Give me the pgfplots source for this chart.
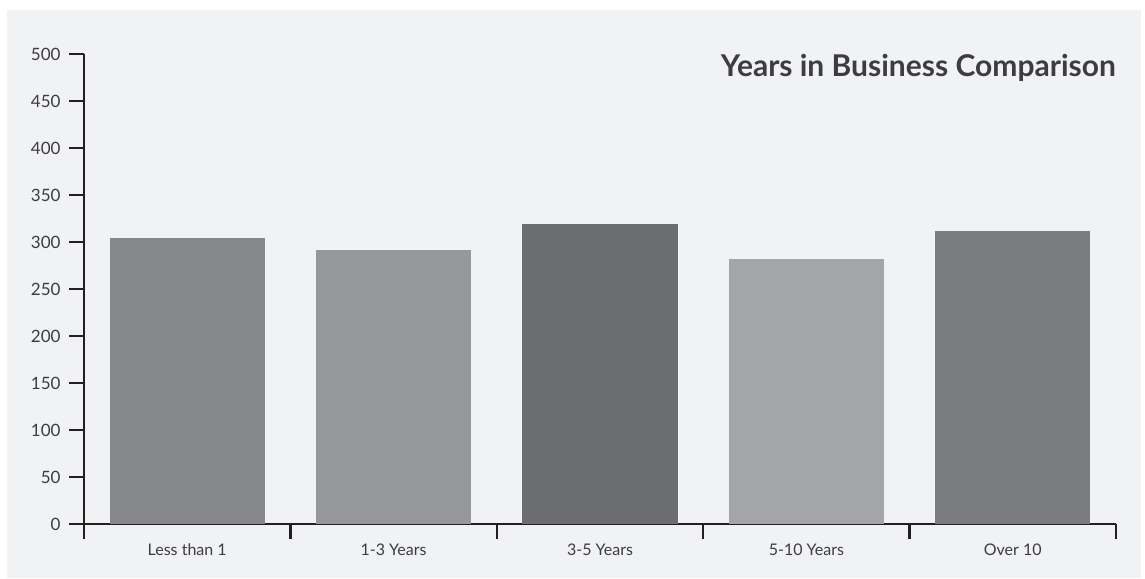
\documentclass[border=0pt]{standalone}
\usepackage{pgfplots}
\pgfplotsset{compat=1.18}
\usepackage{fontspec}
\setmainfont{Lato}
\definecolor{bg}{HTML}{F1F2F4}
\definecolor{axc}{HTML}{231F20}
\definecolor{txt}{HTML}{3D3D3F}
\definecolor{cA}{HTML}{87888C}
\definecolor{cB}{HTML}{97989B}
\definecolor{cC}{HTML}{6C6D71}
\definecolor{cD}{HTML}{A4A5A8}
\definecolor{cE}{HTML}{7B7C80}
\begin{document}
\begin{tikzpicture}[x=1bp,y=1bp]
\path[fill=white] (0,0) rectangle (1145,579);
\fill[bg] (7,1) rectangle (1141,569);
\begin{axis}[
  at={(84bp,55bp)}, anchor=south west,
  scale only axis, width=1032bp, height=470bp,
  xmin=-0.5, xmax=4.5, ymin=0, ymax=500,
  axis x line*=bottom, axis y line*=left,
  axis line style={line width=2.2bp, color=axc},
  every tick/.style={line width=2.2bp, color=axc},
  tick align=outside, major tick length=15bp,
  xtick={-0.5,0.5,1.5,2.5,3.5,4.5},
  x tick label as interval,
  xticklabels={Less than 1,1-3 Years,3-5 Years,5-10 Years,Over 10},
  ytick={0,50,...,500},
  /pgf/number format/assume math mode=true,
  ticklabel style={text=txt},
  xticklabel style={font=\fontsize{16bp}{19bp}\selectfont, yshift=-1bp},
  yticklabel style={font=\fontsize{17bp}{20bp}\selectfont, xshift=-5bp},
  ybar, bar width=155bp, bar shift=0pt,
  every axis plot/.append style={draw=none},
  clip=false,
]
\addplot[fill=cA] coordinates {(0,304)};
\addplot[fill=cB] coordinates {(1,292)};
\addplot[fill=cC] coordinates {(2,319)};
\addplot[fill=cD] coordinates {(3,282)};
\addplot[fill=cE] coordinates {(4,312)};
\end{axis}
\node[anchor=base east, inner sep=0pt, text=txt, font=\fontsize{30bp}{35bp}\selectfont\bfseries] at (1116,502) {Years in Business Comparison};
\end{tikzpicture}
\end{document}
